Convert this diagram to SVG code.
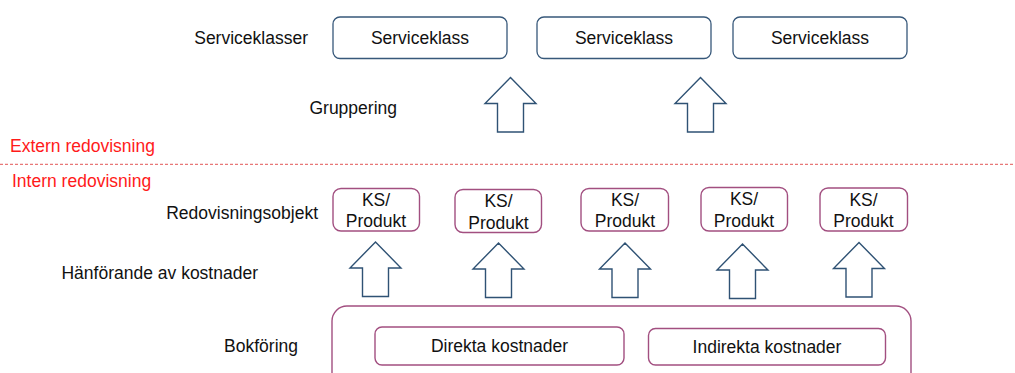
<svg xmlns="http://www.w3.org/2000/svg" width="1015" height="373" viewBox="0 0 1015 373">
<style>
text{font-family:"Liberation Sans",Arial,sans-serif;font-size:17.5px;fill:#111}
.c{text-anchor:middle}
.r{text-anchor:end}
.red{fill:#ff1a1a}
.sk{fill:#fff;stroke:#37587a;stroke-width:1.3}
.ks{fill:#fff;stroke:#a24f80;stroke-width:1.4}
.arr{fill:#fff;stroke:#2f5274;stroke-width:1.4;stroke-linejoin:miter}
</style>
<defs>
<path id="up" d="M0,0 L25.5,26 L13,26 L13,54.5 L-13,54.5 L-13,26 L-25.5,26 Z"/>
</defs>
<rect width="1015" height="373" fill="#fff"/>
<g id="labels">
<text class="r" x="308" y="44">Serviceklasser</text>
<text class="r" x="397" y="114">Gruppering</text>
<text class="red" x="10" y="152">Extern redovisning</text>
<text class="red" x="12" y="187">Intern redovisning</text>
<text class="r" x="318" y="219">Redovisningsobjekt</text>
<text class="r" x="258" y="279">Hänförande av kostnader</text>
<text class="r" x="298" y="352">Bokföring</text>
</g>
<line id="divider" x1="0" y1="164.3" x2="1015" y2="164.3" stroke="#e87878" stroke-width="1.2" stroke-dasharray="3,2"/>
<g id="sk1"><rect class="sk" x="333" y="17" width="174" height="41.5" rx="7"/><text class="c" x="420" y="43.5">Serviceklass</text></g>
<g id="sk2"><rect class="sk" x="537" y="17" width="174" height="41.5" rx="7"/><text class="c" x="624" y="43.5">Serviceklass</text></g>
<g id="sk3"><rect class="sk" x="733" y="17" width="174" height="41.5" rx="7"/><text class="c" x="820" y="43.5">Serviceklass</text></g>
<g id="ks1"><rect class="ks" x="333" y="188.5" width="86.5" height="42.5" rx="8"/><text class="c" x="376" y="205.5">KS/</text><text class="c" x="376" y="227">Produkt</text></g>
<g id="ks2"><rect class="ks" x="455" y="189.5" width="86.5" height="43" rx="8"/><text class="c" x="498.5" y="206.5">KS/</text><text class="c" x="498.5" y="228.5">Produkt</text></g>
<g id="ks3"><rect class="ks" x="581" y="188.5" width="87.5" height="42.5" rx="8"/><text class="c" x="625" y="205.5">KS/</text><text class="c" x="625" y="227">Produkt</text></g>
<g id="ks4"><rect class="ks" x="701" y="187.5" width="86.5" height="43.5" rx="8"/><text class="c" x="744" y="205">KS/</text><text class="c" x="744" y="227">Produkt</text></g>
<g id="ks5"><rect class="ks" x="820" y="188" width="87.5" height="43" rx="8"/><text class="c" x="863.5" y="205.5">KS/</text><text class="c" x="863.5" y="227">Produkt</text></g>
<g id="bokforing">
<rect class="ks" x="332" y="306" width="579" height="90" rx="15"/>
</g>
<g id="direkta"><rect class="ks" x="375" y="327" width="249" height="38" rx="7"/><text class="c" x="499.5" y="352">Direkta kostnader</text></g>
<g id="indirekta"><rect class="ks" x="648.5" y="328.5" width="237" height="36.5" rx="7"/><text class="c" x="767" y="352.5">Indirekta kostnader</text></g>
<g id="connectors">
<use href="#up" class="arr" x="510.5" y="77.5"/>
<use href="#up" class="arr" x="700.5" y="77.5"/>
<use href="#up" class="arr" x="375.5" y="242"/>
<use href="#up" class="arr" x="498.5" y="243"/>
<use href="#up" class="arr" x="625" y="243"/>
<use href="#up" class="arr" x="742.5" y="244"/>
<use href="#up" class="arr" x="859" y="242.5"/>
</g>
</svg>
